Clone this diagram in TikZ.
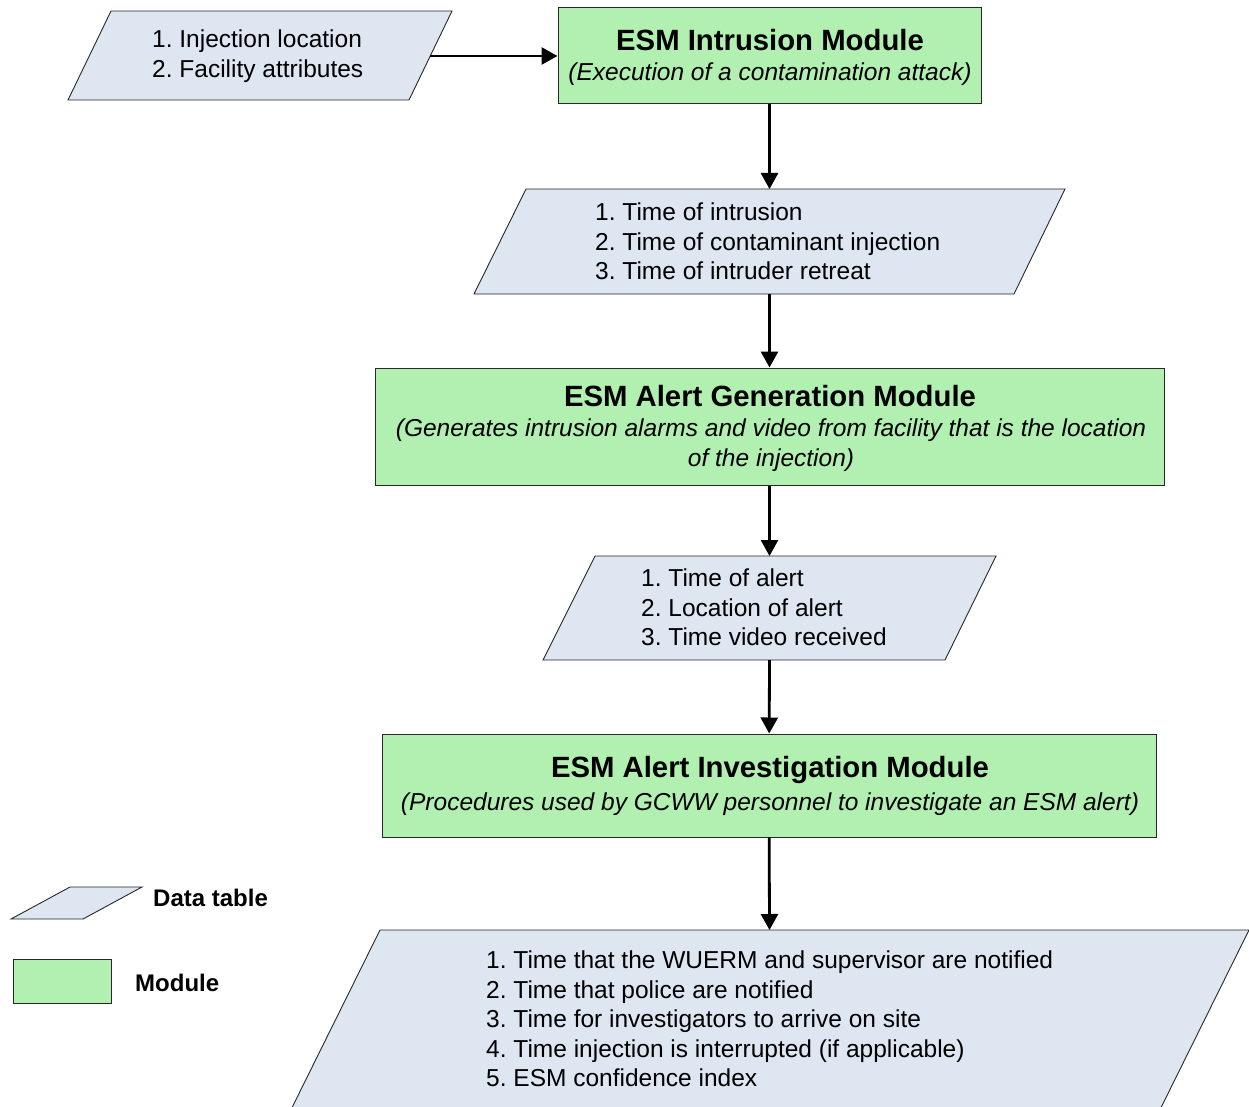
\documentclass[tikz,border=0pt]{standalone}
\usepackage{fontspec}
\setmainfont{Liberation Sans}
\usetikzlibrary{arrows.meta}
\frenchspacing

\definecolor{modfill}{RGB}{178,240,178}
\definecolor{datafill}{RGB}{222,230,242}
\definecolor{edge}{RGB}{40,40,40}

\tikzset{
  module/.style={draw=edge, line width=1pt, fill=modfill, rectangle, inner sep=0pt},
  datashape/.style={draw=edge, line width=0.9pt, fill=datafill, line join=miter},
  listtext/.style={inner sep=0pt, anchor=west, align=left,
    font=\fontsize{24.5}{29.5}\selectfont},
  titletext/.style={inner sep=0pt, font=\fontsize{29.3}{34}\selectfont\bfseries},
  subtext/.style={inner sep=0pt, align=center, font=\fontsize{24.5}{29.5}\selectfont\itshape},
  legendtext/.style={inner sep=0pt, anchor=west, font=\fontsize{24}{29}\selectfont\bfseries},
  flow/.style={draw=black, line width=2.8pt, -{Triangle[length=16pt,width=17pt]}}
}

\begin{document}
\begin{tikzpicture}[x=1pt,y=-1pt]
\useasboundingbox (0,0) rectangle (1249,1107);
\clip (0,0) rectangle (1249,1107);
\fill[white] (0,0) rectangle (1249,1107);

% ---- input data table ----
\path[datashape] (111,11) -- (452,11) -- (409,100) -- (68,100) -- cycle;
\node[listtext] (inputs) at (152,56)
  {1. Injection location\\2. Facility attributes};
\coordinate (inputsE) at (430.3,56);

% ---- intrusion module ----
\node[module, minimum width=423pt, minimum height=96pt] (m1) at (769.5,56) {};
\node[titletext] (m1t) at (770,40) {ESM Intrusion Module};
\node[subtext] (m1s) at (770,74) {(Execution of a contamination attack)};

% ---- intrusion timing table ----
\path[datashape] (526,189) -- (1065,189) -- (1014,294) -- (474,294) -- cycle;
\node[listtext] (d2) at (595,241.5)
  {1. Time of intrusion\\2. Time of contaminant injection\\3. Time of intruder retreat};
\coordinate (d2N) at (769.5,189);
\coordinate (d2S) at (769.5,294);

% ---- alert generation module ----
\node[module, minimum width=789pt, minimum height=117pt] (m2) at (769.5,426.5) {};
\node[titletext] (m2t) at (770,396) {ESM Alert Generation Module};
\node[subtext] (m2s) at (771,445)
  {(Generates intrusion alarms and video from facility that is the location\\of the injection)};

% ---- alert data table ----
\path[datashape] (595,556) -- (996,556) -- (945,660) -- (543,660) -- cycle;
\node[listtext] (d3) at (641,607.5)
  {1. Time of alert\\2. Location of alert\\3. Time video received};
\coordinate (d3N) at (769.5,556);
\coordinate (d3S) at (769.5,660);

% ---- alert investigation module ----
\node[module, minimum width=774pt, minimum height=103pt] (m3) at (769,785.5) {};
\node[titletext] (m3t) at (770,770) {ESM Alert Investigation Module};
\node[subtext] (m3s) at (770,804)
  {(Procedures used by GCWW personnel to investigate an ESM alert)};

% ---- investigation results table ----
\path[datashape] (380,930) -- (1249,930) -- (1140,1150) -- (271,1150) -- cycle;
\node[listtext] (d4) at (486,1019)
  {1. Time that the WUERM and supervisor are notified\\
   2. Time that police are notified\\
   3. Time for investigators to arrive on site\\
   4. Time injection is interrupted (if applicable)\\
   5. ESM confidence index};
\coordinate (d4N) at (769.5,930);

% ---- connectors ----
\draw[flow] (inputsE) -- (m1);
\draw[flow] (m1) -- (d2N);
\draw[flow] (d2S) -- (m2);
\draw[flow] (m2) -- (d3N);
\draw[flow] (d3S) -- (m3);
\draw[flow] (m3) -- (d4N);

% ---- legend ----
\path[datashape] (70,887) -- (142,887) -- (83,919) -- (11,919) -- cycle;
\node[legendtext] (legdata) at (153,898) {Data table};
\node[module, minimum width=98pt, minimum height=44pt] (legmod) at (62,981) {};
\node[legendtext] (legmodt) at (135,983) {Module};
\end{tikzpicture}
\end{document}
